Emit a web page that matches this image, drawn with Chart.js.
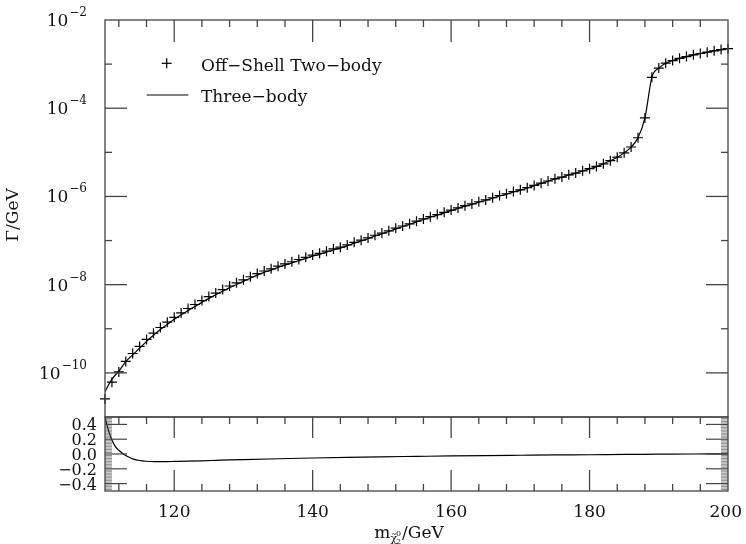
<!DOCTYPE html>
<html>
<head>
<meta charset="utf-8">
<script src="https://cdn.jsdelivr.net/npm/chart.js@4.4.1/dist/chart.umd.min.js"></script>
<style>
  body { margin: 0; background: #fff; }
  #wrap { position: relative; width: 746px; height: 544px; }
  #wrap canvas { position: absolute; left: 0; top: 0; }
</style>
</head>
<body>
<div id="wrap">
  <canvas id="widthChart" width="746" height="544"></canvas>
  <canvas id="ratioChart" width="746" height="544"></canvas>
</div>
<script>
// neutralino mass grid (GeV)
var masses = [
  110, 111, 112, 113, 114, 115, 116, 117, 118, 119,
  120, 121, 122, 123, 124, 125, 126, 127, 128, 129,
  130, 131, 132, 133, 134, 135, 136, 137, 138, 139,
  140, 141, 142, 143, 144, 145, 146, 147, 148, 149,
  150, 151, 152, 153, 154, 155, 156, 157, 158, 159,
  160, 161, 162, 163, 164, 165, 166, 167, 168, 169,
  170, 171, 172, 173, 174, 175, 176, 177, 178, 179,
  180, 181, 182, 183, 184, 185, 186, 187, 188, 189,
  190, 191, 192, 193, 194, 195, 196, 197, 198, 199, 200
];

// width in GeV, off-shell two-body calculation
var twoBody = [
  2.57e-11, 6.17e-11, 1.05e-10, 1.82e-10, 2.75e-10, 3.98e-10, 5.75e-10, 7.94e-10, 1.07e-9, 1.41e-9,
  1.82e-9, 2.29e-9, 2.88e-9, 3.55e-9, 4.37e-9, 5.37e-9, 6.46e-9, 7.76e-9, 9.33e-9, 1.10e-8,
  1.29e-8, 1.51e-8, 1.78e-8, 2.04e-8, 2.29e-8, 2.63e-8, 2.95e-8, 3.31e-8, 3.72e-8, 4.17e-8,
  4.68e-8, 5.13e-8, 5.75e-8, 6.46e-8, 7.08e-8, 7.94e-8, 9.12e-8, 1.02e-7, 1.15e-7, 1.32e-7,
  1.48e-7, 1.66e-7, 1.91e-7, 2.14e-7, 2.40e-7, 2.75e-7, 3.09e-7, 3.47e-7, 3.89e-7, 4.37e-7,
  4.90e-7, 5.50e-7, 6.17e-7, 6.76e-7, 7.59e-7, 8.32e-7, 9.33e-7, 1.05e-6, 1.15e-6, 1.29e-6,
  1.41e-6, 1.58e-6, 1.78e-6, 2.00e-6, 2.24e-6, 2.51e-6, 2.75e-6, 3.09e-6, 3.39e-6, 3.80e-6,
  4.27e-6, 4.79e-6, 5.50e-6, 6.46e-6, 7.76e-6, 9.77e-6, 1.32e-5, 2.14e-5, 6.03e-5, 5.01e-4,
  8.13e-4, 1.05e-3, 1.20e-3, 1.35e-3, 1.48e-3, 1.62e-3, 1.74e-3, 1.86e-3, 2.00e-3, 2.14e-3, 2.24e-3
];

// width in GeV, full three-body calculation
var threeBody = [
  3.80e-11, 7.20e-11, 1.10e-10, 1.79e-10, 2.57e-10, 3.63e-10, 5.19e-10, 7.13e-10, 9.60e-10, 1.26e-9,
  1.64e-9, 2.07e-9, 2.60e-9, 3.21e-9, 3.97e-9, 4.89e-9, 5.90e-9, 7.11e-9, 8.58e-9, 1.01e-8,
  1.19e-8, 1.40e-8, 1.65e-8, 1.90e-8, 2.13e-8, 2.46e-8, 2.77e-8, 3.11e-8, 3.51e-8, 3.94e-8,
  4.43e-8, 4.87e-8, 5.46e-8, 6.15e-8, 6.76e-8, 7.58e-8, 8.73e-8, 9.77e-8, 1.10e-7, 1.27e-7,
  1.42e-7, 1.60e-7, 1.84e-7, 2.07e-7, 2.32e-7, 2.66e-7, 3.00e-7, 3.37e-7, 3.78e-7, 4.25e-7,
  4.77e-7, 5.36e-7, 6.02e-7, 6.60e-7, 7.42e-7, 8.15e-7, 9.14e-7, 1.03e-6, 1.13e-6, 1.27e-6,
  1.39e-6, 1.56e-6, 1.76e-6, 1.97e-6, 2.21e-6, 2.48e-6, 2.72e-6, 3.06e-6, 3.36e-6, 3.77e-6,
  4.23e-6, 4.75e-6, 5.46e-6, 6.42e-6, 7.72e-6, 9.72e-6, 1.31e-5, 2.13e-5, 6.01e-5, 4.99e-4,
  8.11e-4, 1.05e-3, 1.20e-3, 1.35e-3, 1.48e-3, 1.62e-3, 1.74e-3, 1.86e-3, 2.00e-3, 2.14e-3, 2.24e-3
];

// relative difference shown in the lower panel
var ratioMass = [110, 110.5, 111, 111.5, 112, 112.5, 113, 113.5, 114, 115, 116, 117, 118, 119, 120,
  122, 124, 126, 128, 130, 135, 140, 145, 150, 155, 160, 165, 170, 175, 180, 185, 190, 195, 200];
var ratio = [0.50, 0.32, 0.19, 0.10, 0.05, 0.01, -0.02, -0.045, -0.065, -0.088, -0.098, -0.102, -0.104, -0.103, -0.101,
  -0.097, -0.092, -0.086, -0.080, -0.075, -0.064, -0.054, -0.045, -0.038, -0.032, -0.026, -0.021, -0.017, -0.013, -0.010, -0.006, -0.003, 0.000, 0.002];

var xTickLabels = [120, 140, 160, 180, 200];
var widthDecades = [-2, -4, -6, -8, -10];
var ratioTicks = [0.4, 0.2, 0.0, -0.2, -0.4];

var serif = '"DejaVu Serif", serif';
var axisColor = '#444';
var inkColor = '#111';

function pairs(xs, ys) {
  return xs.map(function (x, i) { return { x: x, y: ys[i] }; });
}

function seg(ctx, x1, y1, x2, y2) {
  ctx.beginPath();
  ctx.moveTo(x1, y1);
  ctx.lineTo(x2, y2);
  ctx.stroke();
}

function xTicks(ctx, xs, y, dir, major) {
  for (var m = 112; m < 200; m += 4) {
    var x = xs.getPixelForValue(m);
    var len = m % 20 === 0 ? major : 7;
    seg(ctx, x, y, x, y + dir * len);
  }
}

// 10 with a raised exponent, right aligned
function powerLabel(ctx, exp, right, y) {
  var sup = '\u2212' + (-exp);
  ctx.font = '12px ' + serif;
  var w2 = ctx.measureText(sup).width;
  ctx.font = '17px ' + serif;
  var w1 = ctx.measureText('10').width;
  ctx.textAlign = 'left';
  ctx.fillText('10', right - w2 - w1 - 1, y + 6);
  ctx.font = '12px ' + serif;
  ctx.fillText(sup, right - w2, y - 4);
}

var widthFrame = {
  id: 'widthFrame',
  afterDraw: function (chart) {
    var ctx = chart.ctx, a = chart.chartArea;
    var xs = chart.scales.x, ys = chart.scales.y;
    ctx.save();
    ctx.strokeStyle = axisColor;
    ctx.lineWidth = 1.3;
    ctx.strokeRect(a.left, a.top, a.right - a.left, a.bottom - a.top);
    for (var e = -10; e <= -3; e++) {
      var y = ys.getPixelForValue(Math.pow(10, e));
      var len = e % 2 === 0 ? 22 : 7;
      seg(ctx, a.left, y, a.left + len, y);
      seg(ctx, a.right, y, a.right - len, y);
    }
    xTicks(ctx, xs, a.top, 1, 22);

    ctx.fillStyle = inkColor;
    ctx.textBaseline = 'alphabetic';
    widthDecades.forEach(function (e) {
      powerLabel(ctx, e, 87, ys.getPixelForValue(Math.pow(10, e)));
    });

    // legend
    var ds = chart.data.datasets;
    ctx.strokeStyle = '#000';
    ctx.lineWidth = 1.2;
    seg(ctx, 161.7, 63.3, 171.7, 63.3);
    seg(ctx, 166.7, 58.3, 166.7, 68.3);
    seg(ctx, 146.7, 95, 188.3, 95);
    ctx.font = '17px ' + serif;
    ctx.textAlign = 'left';
    ctx.fillText(ds[0].label, 201, 70.5);
    ctx.fillText(ds[1].label, 201, 102);

    // y title
    ctx.translate(18, 215);
    ctx.rotate(-Math.PI / 2);
    ctx.textAlign = 'center';
    ctx.fillText('\u0393/GeV', 0, 0);
    ctx.restore();
  }
};

var ratioFrame = {
  id: 'ratioFrame',
  afterDraw: function (chart) {
    var ctx = chart.ctx, a = chart.chartArea;
    var xs = chart.scales.x, ys = chart.scales.y;
    ctx.save();
    ctx.strokeStyle = axisColor;
    ctx.lineWidth = 1.3;
    ctx.strokeRect(a.left, a.top, a.right - a.left, a.bottom - a.top);
    xTicks(ctx, xs, a.top, 1, 21);
    xTicks(ctx, xs, a.bottom, -1, 21);
    for (var k = -24; k <= 24; k++) {
      var y = ys.getPixelForValue(k / 50);
      var major = k % 10 === 0;
      ctx.lineWidth = major ? 1.2 : 0.6;
      var len = major ? 22 : 7;
      seg(ctx, a.left, y, a.left + len, y);
      seg(ctx, a.right, y, a.right - len, y);
    }

    ctx.fillStyle = inkColor;
    ctx.font = '16px ' + serif;
    ctx.textAlign = 'right';
    ratioTicks.forEach(function (v) {
      var txt = (v < 0 ? '\u2212' : '') + Math.abs(v).toFixed(1);
      ctx.fillText(txt, 97, ys.getPixelForValue(v) + 6);
    });

    ctx.font = '17px ' + serif;
    ctx.textAlign = 'center';
    xTickLabels.forEach(function (m) {
      var x = xs.getPixelForValue(m);
      var w = ctx.measureText(String(m)).width;
      x = Math.min(x, 742 - w / 2);
      ctx.fillText(String(m), x, 517);
    });

    // x title: m with the neutralino subscript
    ctx.textAlign = 'left';
    var parts = [
      { t: 'm', f: '17px', dy: 0 },
      { t: '\u03C7\u0303', f: '11px', dy: 4 },
      { t: '/GeV', f: '17px', dy: 0 }
    ];
    var total = 0;
    parts.forEach(function (p) {
      ctx.font = p.f + ' ' + serif;
      p.w = ctx.measureText(p.t).width;
      total += p.w + (p.f === '11px' ? 5 : 0);
    });
    var x0 = 409 - total / 2, base = 538;
    parts.forEach(function (p) {
      ctx.font = p.f + ' ' + serif;
      ctx.fillText(p.t, x0, base + p.dy);
      if (p.f === '11px') {
        ctx.font = '8px ' + serif;
        ctx.fillText('0', x0 + p.w - 1, base - 2);
        ctx.fillText('2', x0 + p.w - 1, base + 6);
        x0 += 5;
      }
      x0 += p.w;
    });
    ctx.restore();
  }
};

var widthChart = new Chart(document.getElementById('widthChart'), {
  type: 'line',
  data: {
    datasets: [{
      label: 'Off\u2212Shell Two\u2212body',
      data: pairs(masses, twoBody),
      showLine: false,
      pointStyle: 'cross',
      pointRadius: 5,
      pointBorderWidth: 1.2,
      pointBorderColor: '#000',
      clip: false
    }, {
      label: 'Three\u2212body',
      data: pairs(masses, threeBody),
      borderColor: '#000',
      borderWidth: 1.2,
      pointRadius: 0,
      cubicInterpolationMode: 'monotone'
    }]
  },
  options: {
    responsive: false,
    animation: false,
    events: [],
    layout: { padding: { left: 105, top: 20, right: 18, bottom: 127 } },
    plugins: { legend: { display: false }, tooltip: { enabled: false } },
    scales: {
      x: { type: 'linear', min: 110, max: 200, display: false },
      y: { type: 'logarithmic', min: 1e-11, max: 1e-2, display: false }
    }
  },
  plugins: [widthFrame]
});

var ratioChart = new Chart(document.getElementById('ratioChart'), {
  type: 'line',
  data: {
    datasets: [{
      label: 'ratio',
      data: pairs(ratioMass, ratio),
      borderColor: '#000',
      borderWidth: 1.2,
      pointRadius: 0,
      cubicInterpolationMode: 'monotone'
    }]
  },
  options: {
    responsive: false,
    animation: false,
    events: [],
    layout: { padding: { left: 105, top: 417, right: 18, bottom: 53 } },
    plugins: { legend: { display: false }, tooltip: { enabled: false } },
    scales: {
      x: { type: 'linear', min: 110, max: 200, display: false },
      y: { type: 'linear', min: -0.5, max: 0.5, display: false }
    }
  },
  plugins: [ratioFrame]
});
</script>
</body>
</html>
